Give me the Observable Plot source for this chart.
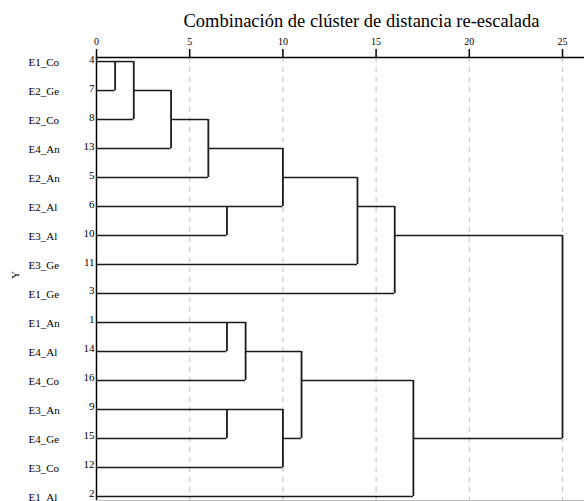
<!DOCTYPE html>
<html>
<head>
<meta charset="utf-8">
<script src="https://cdn.jsdelivr.net/npm/d3@7"></script>
<script src="https://cdn.jsdelivr.net/npm/@observablehq/plot@0.6"></script>
<style>
  html, body { margin: 0; padding: 0; background: #fff; }
  #chart svg { display: block; }
</style>
</head>
<body>
<div id="chart"></div>
<script>
// ---- data ----
const leafLabels = ["E1_Co","E2_Ge","E2_Co","E4_An","E2_An","E2_Al","E3_Al","E3_Ge","E1_Ge","E1_An","E4_Al","E4_Co","E3_An","E4_Ge","E3_Co","E1_Al"];
const caseNumbers = [4,7,8,13,5,6,10,11,3,1,14,16,9,15,12,2];
// agglomeration schedule: [cluster A (first case), cluster B (first case), rescaled distance]
const mergeA = [4,4,4,4,6,1,9,1,4,9,1,4,4,1,4];
const mergeB = [7,8,13,5,10,14,15,16,6,12,9,11,3,2,1];
const mergeDist = [1,2,4,6,7,7,7,8,10,10,11,14,16,17,25];
const xTicks = [0,5,10,15,20,25];
const title = "Combinación de clúster de distancia re-escalada";
const yLabel = "Y";

// ---- build dendrogram segments from the schedule ----
const nodes = new Map();
caseNumbers.forEach((c, i) => nodes.set(c, {row: i, x: 0}));
const hSegs = [], vSegs = [];
mergeA.forEach((a, k) => {
  const b = mergeB[k], d = mergeDist[k];
  const na = nodes.get(a), nb = nodes.get(b);
  hSegs.push({x1: na.x, x2: d, y: na.row});
  hSegs.push({x1: nb.x, x2: d, y: nb.row});
  vSegs.push({x: d, y1: na.row, y2: nb.row});
  nodes.set(a, {row: Math.floor((na.row + nb.row) / 2), x: d});
  nodes.delete(b);
});
const leaves = leafLabels.map((name, i) => ({name, num: caseNumbers[i], row: i}));

const yDomain = [-0.14, leafLabels.length - 1 + 0.14];
const xDomain = [0, 26.18];

const chart = Plot.plot({
  width: 584,
  height: 501,
  marginLeft: 96,
  marginRight: 0,
  marginTop: 57,
  marginBottom: 1,
  style: {fontFamily: "'Liberation Serif', 'Times New Roman', serif", background: "#fff", color: "#000"},
  x: {domain: xDomain},
  y: {domain: yDomain, reverse: true, axis: null},
  marks: [
    Plot.ruleX(xTicks.slice(1), {y1: yDomain[0], y2: yDomain[1], stroke: "#c8c8c8", strokeWidth: 1.2, strokeDasharray: "5,5"}),
    Plot.ruleY([yDomain[1]], {stroke: "#bdbdbd", strokeWidth: 1.2}),
    Plot.ruleY([yDomain[0]], {stroke: "#000", strokeWidth: 1.5}),
    Plot.ruleX([0], {y1: yDomain[0], y2: yDomain[1], stroke: "#000", strokeWidth: 1.5}),
    Plot.axisX({anchor: "top", ticks: xTicks, tickSize: 9, tickPadding: 4, fontSize: 10, label: null, strokeWidth: 1.5, tickFormat: d => d}),
    Plot.ruleY(hSegs, {x1: "x1", x2: "x2", y: "y", stroke: "#1a1a1a", strokeWidth: 1.5}),
    Plot.ruleX(vSegs, {x: "x", y1: "y1", y2: "y2", stroke: "#1a1a1a", strokeWidth: 1.8}),
    Plot.text(leaves, {x: 0, y: "row", text: "name", dx: -68, dy: 1, textAnchor: "start", fontSize: 11}),
    Plot.text(leaves, {x: 0, y: "row", text: d => String(d.num), dx: -2, dy: 1, textAnchor: "end", lineAnchor: "bottom", fontSize: 11}),
    Plot.text([title], {frameAnchor: "top", text: d => d, dx: 21, dy: -31, lineAnchor: "bottom", fontSize: 18.5}),
    Plot.text([yLabel], {frameAnchor: "left", text: d => d, dx: -81, rotate: -90, fontSize: 11})
  ]
});
document.getElementById("chart").appendChild(chart);
</script>
</body>
</html>
